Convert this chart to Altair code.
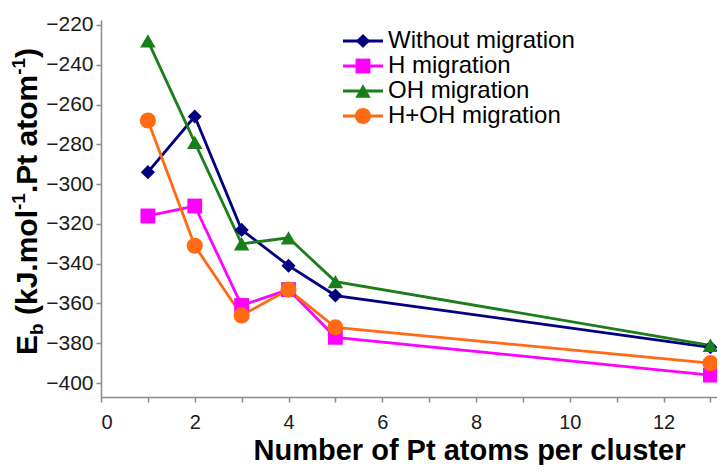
import altair as alt
import pandas as pd

series_names = ["Without migration", "H migration", "OH migration", "H+OH migration"]
colors = ["#000080", "#ff00ff", "#1a7f1a", "#ff6a13"]
marker_shapes = ["diamond", "square", "triangle-up", "circle"]
marker_sizes = [200, 260, 240, 230]
pt_atoms = [1, 2, 3, 4, 5, 13]
without_migration = [-294, -266, -323, -341, -356, -382]
h_migration = [-316, -311, -361, -353, -377, -396]
oh_migration = [-228, -279, -330, -327, -349, -381]
h_oh_migration = [-268, -331, -366, -353, -372, -390]

rows = []
for name, vals in zip(series_names, [without_migration, h_migration, oh_migration, h_oh_migration]):
    for x, y in zip(pt_atoms, vals):
        rows.append({"series": name, "x": x, "y": y})
df = pd.DataFrame(rows)
legend_df = pd.DataFrame({"series": series_names})

FONT = "Liberation Sans"
W, H = 616, 377

x_enc = alt.X("x:Q", scale=alt.Scale(domain=[0, 13.14], nice=False, zero=False),
              axis=alt.Axis(title="Number of Pt atoms per cluster", values=list(range(0, 14)),
                            labelExpr="datum.value % 2 == 0 ? datum.label : ''",
                            grid=False, tickSize=5, labelPadding=10, labelFontSize=20,
                            titlePadding=4, titleX=368, titleAlign="center"))
y_enc = alt.Y("y:Q", scale=alt.Scale(domain=[-407, -217.5], nice=False, zero=False),
              axis=alt.Axis(title=None, values=list(range(-400, -219, 20)),
                            grid=False, tickSize=5, labelPadding=3))

color_scale = alt.Scale(domain=series_names, range=colors)
shape_scale = alt.Scale(domain=series_names, range=marker_shapes)
size_scale = alt.Scale(domain=series_names, range=marker_sizes)

lines = alt.Chart(df).mark_line(strokeWidth=2.8).encode(
    x=x_enc, y=y_enc,
    color=alt.Color("series:N", scale=color_scale, legend=None),
    detail="series:N",
)

points = alt.Chart(df).mark_point(filled=True, opacity=1).encode(
    x="x:Q", y="y:Q",
    color=alt.Color("series:N", scale=color_scale, legend=None),
    shape=alt.Shape("series:N", scale=shape_scale, legend=None),
    size=alt.Size("series:N", scale=size_scale, legend=None),
)

# y-axis title with subscript / superscripts, built from rotated text pieces
big, small = 30, 19
widths = {"E": 667, "b": 611, " ": 278, "(": 333, "k": 556, "J": 556, ".": 278, "m": 889,
          "o": 611, "l": 278, "-": 333, "1": 556, "P": 667, "t": 333, "a": 556, ")": 333}
pieces = [("E", big, 0), ("b", small, 6), (" (kJ.mol", big, 0), ("-1", small, -12),
          (".Pt atom", big, 0), ("-1", small, -12), (")", big, 0)]
title_layers = []
pos = 335.0
base_x = -64
for txt, fs, shift in pieces:
    if txt.startswith(" "):
        pos -= widths[" "] / 1000.0 * fs
        txt = txt.lstrip(" ")
    title_layers.append(
        alt.Chart(pd.DataFrame({"t": [txt]})).mark_text(
            text=txt, font=FONT, fontSize=fs, fontWeight="bold", angle=270,
            align="left", baseline="alphabetic", color="#000000"
        ).encode(x=alt.value(base_x + shift), y=alt.value(pos))
    )
    pos -= sum(widths[c] for c in txt) / 1000.0 * fs

main = alt.layer(lines, points, *title_layers)

# legend: rows placed through a point scale of its own
leg_y = alt.Y("series:N", scale=alt.Scale(type="point", domain=series_names, range=[21, 96],
                                         padding=0), axis=None)
leg_lines = alt.Chart(legend_df).mark_rule(strokeWidth=2.8).encode(
    y=leg_y, x=alt.value(242), x2=alt.value(282),
    color=alt.Color("series:N", scale=color_scale, legend=None),
)
leg_points = alt.Chart(legend_df).mark_point(filled=True, opacity=1).encode(
    y=leg_y, x=alt.value(262),
    color=alt.Color("series:N", scale=color_scale, legend=None),
    shape=alt.Shape("series:N", scale=shape_scale, legend=None),
    size=alt.Size("series:N", scale=size_scale, legend=None),
)
leg_text = alt.Chart(legend_df).mark_text(
    align="left", baseline="middle", font=FONT, fontSize=24, color="#000000"
).encode(y=leg_y, x=alt.value(287), text="series:N")
legend = alt.layer(leg_lines, leg_points, leg_text)

chart = alt.layer(main, legend).resolve_scale(y="independent").properties(
    width=W, height=H,
    autosize=alt.AutoSizeParams(type="none"),
    padding={"left": 93, "top": 12, "right": 0, "bottom": 68},
).configure_view(stroke=None).configure_axis(
    domainColor="#8a8a8a", tickColor="#8a8a8a", domainWidth=1.5, tickWidth=1.5,
    labelFont=FONT, labelFontSize=21, labelColor="#1a1a1a",
    titleFont=FONT, titleFontSize=29, titleFontWeight="bold", titleColor="#000000",
)

chart.save("out.html", embed_options={"renderer": "svg", "actions": False})
